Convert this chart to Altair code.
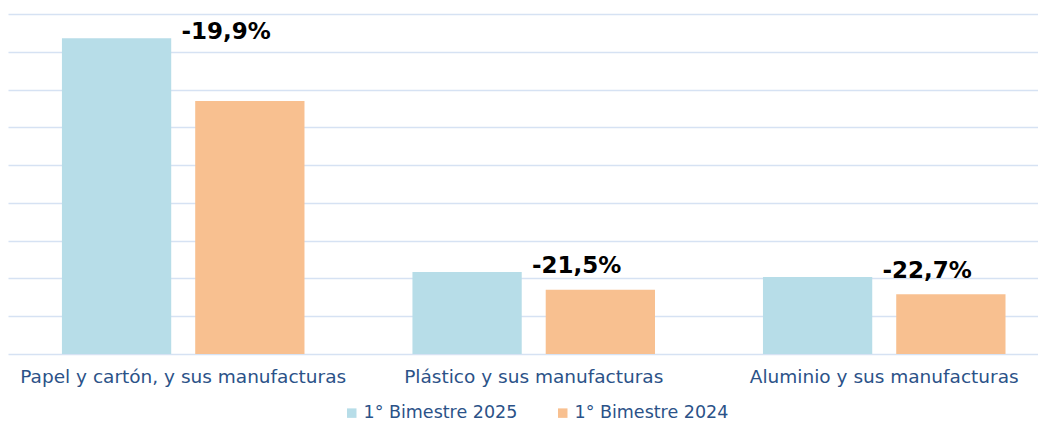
import altair as alt
import pandas as pd

categories = ["Papel y cartón, y sus manufacturas", "Plástico y sus manufacturas", "Aluminio y sus manufacturas"]
series = ["1° Bimestre 2025", "1° Bimestre 2024"]
values_2025 = [83.6, 21.7, 20.4]
values_2024 = [67.0, 17.0, 15.8]
variation_labels = ["-19,9%", "-21,5%", "-22,7%"]
colors = ["#B7DDE8", "#F8C090"]
grid_values = [0, 10, 20, 30, 40, 50, 60, 70, 80, 90]

rows = []
for c, a, b in zip(categories, values_2025, values_2024):
    rows.append({"cat": c, "serie": series[0], "valor": a})
    rows.append({"cat": c, "serie": series[1], "valor": b})
bars_df = pd.DataFrame(rows)

lab_df = pd.DataFrame({
    "cat": categories,
    "valor": values_2025,
    "label": variation_labels,
})

text_color = "#2B5288"
grid_color = "#D6E2F3"

xscale = alt.Scale(domain=categories, paddingInner=0.308, paddingOuter=0.1233, align=0.624)
yscale = alt.Scale(domain=[0, 90], nice=False)
offscale = alt.Scale(domain=series, paddingInner=0.18, paddingOuter=0)

x_axis = alt.Axis(title=None, labelAngle=0, ticks=False, domain=False, grid=False,
                  labelFont="DejaVu Sans", labelFontSize=18.5,
                  labelColor=text_color, labelPadding=13, labelLimit=400)
y_axis = alt.Axis(title=None, labels=False, ticks=False, domain=False,
                  values=grid_values, tickCount=len(grid_values), grid=True,
                  gridColor=grid_color, gridWidth=1.5)

bars = alt.Chart(bars_df).mark_bar().encode(
    x=alt.X("cat:N", scale=xscale, sort=categories, axis=x_axis),
    xOffset=alt.XOffset("serie:N", scale=offscale, sort=series),
    y=alt.Y("valor:Q", scale=yscale, axis=y_axis),
    color=alt.Color("serie:N", sort=series,
                    scale=alt.Scale(domain=series, range=colors),
                    legend=alt.Legend(title=None, orient="none", direction="horizontal",
                                      legendX=335, legendY=390,
                                      symbolType="square", symbolSize=90,
                                      symbolStrokeWidth=0,
                                      labelFont="DejaVu Sans", labelFontSize=17.5,
                                      labelColor=text_color, columnPadding=36,
                                      labelOffset=3)),
)

labels = alt.Chart(lab_df).mark_text(
    font="DejaVu Sans", fontWeight="bold", fontSize=23, color="#000000",
    baseline="middle", dx=43, dy=-6,
).encode(
    x=alt.X("cat:N", scale=xscale, sort=categories, axis=x_axis, bandPosition=0.5),
    y=alt.Y("valor:Q", scale=yscale, axis=y_axis),
    text="label:N",
)

chart = alt.layer(bars, labels).properties(
    width=1030, height=340,
    padding={"left": 0, "right": 0, "top": 6, "bottom": 0},
    background="white",
).configure_view(stroke=None)

chart.save("out.html", embed_options={"renderer": "svg", "actions": False})
